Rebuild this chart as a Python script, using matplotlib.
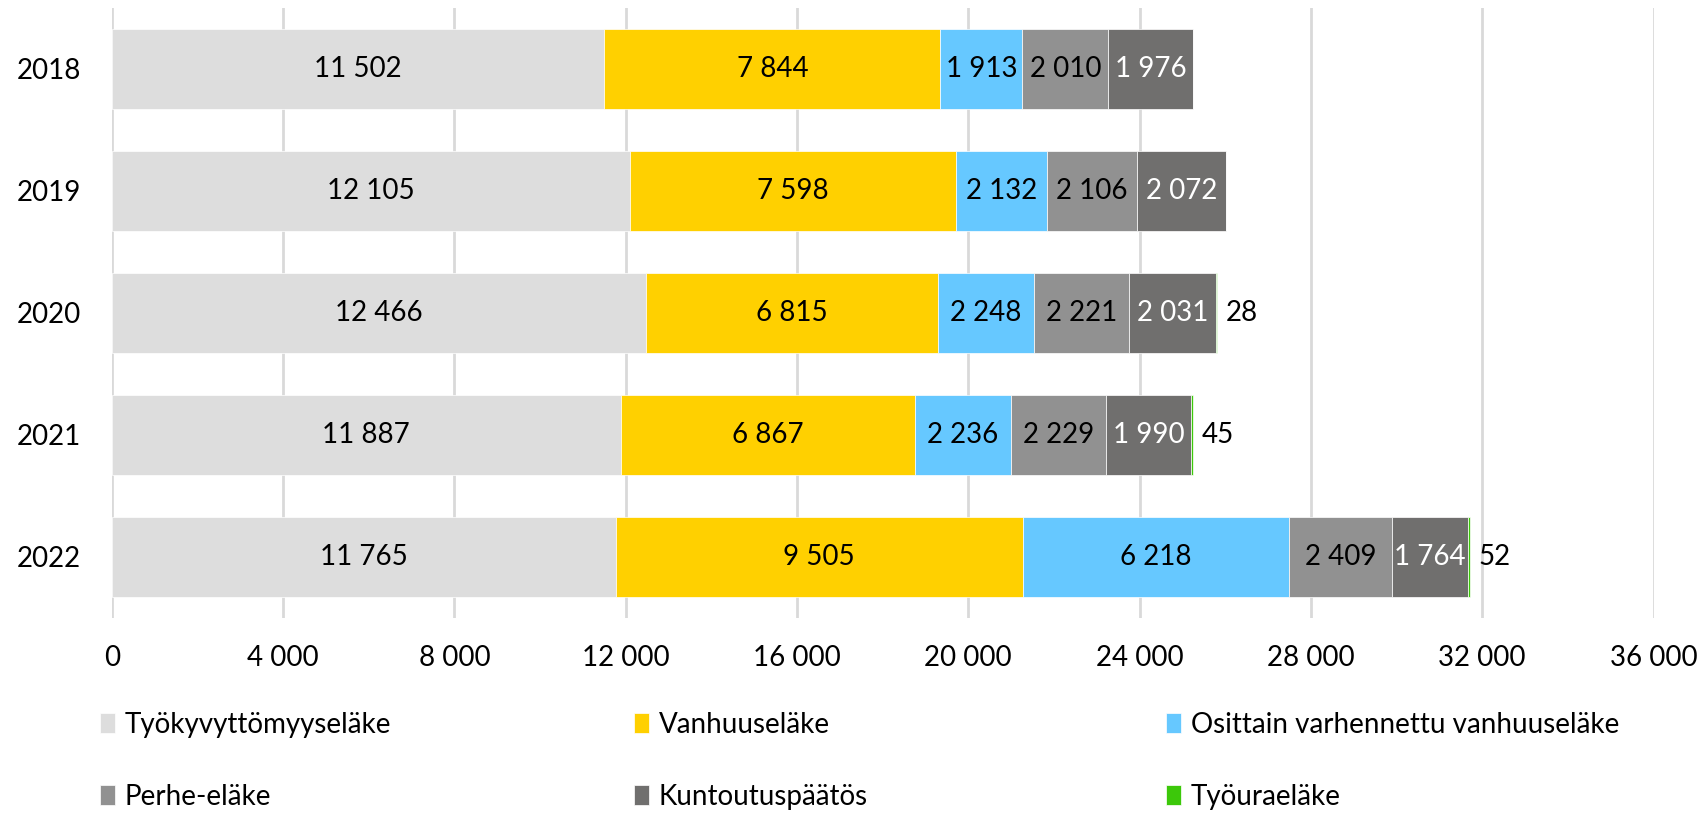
import matplotlib.pyplot as plt
import numpy as np

plt.rcParams['font.family'] = ['Lato', 'DejaVu Sans']

years = ['2018', '2019', '2020', '2021', '2022']
series_names = ['Työkyvyttömyyseläke', 'Vanhuuseläke', 'Osittain varhennettu vanhuuseläke',
                'Perhe-eläke', 'Kuntoutuspäätös', 'Työuraeläke']
tyokyvyttomyys = [11502, 12105, 12466, 11887, 11765]
vanhuus = [7844, 7598, 6815, 6867, 9505]
osittain = [1913, 2132, 2248, 2236, 6218]
perhe = [2010, 2106, 2221, 2229, 2409]
kuntoutus = [1976, 2072, 2031, 1990, 1764]
tyoura = [0, 0, 28, 45, 52]
xticks = [0, 4000, 8000, 12000, 16000, 20000, 24000, 28000, 32000, 36000]

colors = ['#DDDDDD', '#FFD000', '#66C8FF', '#919191', '#706F6E', '#3CC80A']
label_colors = ['black', 'black', 'black', 'black', 'white', 'black']
data = [tyokyvyttomyys, vanhuus, osittain, perhe, kuntoutus, tyoura]

def fmt(v):
    return f'{v:,}'.replace(',', ' ')

fig = plt.figure(figsize=(17.01, 8.14), dpi=100)
ax = fig.add_axes([0.0657, 0.2413, 0.9064, 0.7489])

y = np.arange(len(years))
left = np.zeros(len(years))
handles = []
for i, vals in enumerate(data):
    vals = np.array(vals, dtype=float)
    bars = ax.barh(y, vals, left=left, height=0.656, color=colors[i],
                   edgecolor='white', linewidth=0.5, zorder=3)
    handles.append(bars)
    for j, v in enumerate(vals):
        if v <= 0:
            continue
        if i == len(data) - 1:
            ax.annotate(fmt(int(v)), (left[j] + v, y[j]), xytext=(6, 0),
                        textcoords='offset points', ha='left', va='center',
                        fontsize=20, color='black', zorder=4)
        else:
            ax.text(left[j] + v / 2, y[j], fmt(int(v)), ha='center', va='center',
                    fontsize=20, color=label_colors[i], zorder=4)
    left += vals

ax.set_xlim(0, 36000)
ax.set_ylim(len(years) - 0.5, -0.5)
ax.set_xticks(xticks)
ax.set_xticklabels([fmt(t) for t in xticks], fontsize=20)
ax.set_yticks(y)
ax.set_yticklabels(years, fontsize=20)
ax.tick_params(axis='both', length=0)
ax.tick_params(axis='x', pad=20)
ax.tick_params(axis='y', pad=22)
ax.grid(axis='x', color='#D9D9D9', linewidth=2, zorder=0)
for s in ax.spines.values():
    s.set_visible(False)

# legenda kolmeen sarakkeeseen
col_x = [0.052, 0.366, 0.679]
for c in range(3):
    h = [handles[c], handles[c + 3]]
    lab = [series_names[c], series_names[c + 3]]
    leg = fig.legend(h, lab, loc='upper left', bbox_to_anchor=(col_x[c], 0.139),
                     frameon=False, fontsize=20, handlelength=0.55, handleheight=0.75,
                     handletextpad=0.35, labelspacing=1.65, borderaxespad=0)

fig.savefig('out.png', dpi=100)
